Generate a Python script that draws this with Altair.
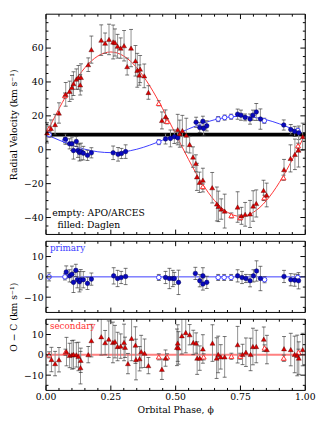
import altair as alt
import pandas as pd

FONT = "DejaVu Serif"

# ---------------- data ----------------
curve_phase = [0.0, 0.05, 0.1, 0.15, 0.2, 0.25, 0.3, 0.35, 0.4, 0.45, 0.5,
               0.55, 0.6, 0.65, 0.7, 0.75, 0.8, 0.85, 0.9, 0.95, 1.0]
curve_prim = [9.0, 5.7, 2.7, 0.3, -1.2, -1.7, -1.2, 0.3, 2.7, 5.7, 9.0,
              12.3, 15.3, 17.7, 19.2, 19.7, 19.2, 17.7, 15.3, 12.3, 9.0]
curve_sec = [9.2, 24.2, 37.7, 48.4, 55.3, 57.7, 55.3, 48.4, 37.7, 24.2, 9.2,
             -5.8, -19.3, -30.0, -36.9, -39.3, -36.9, -30.0, -19.3, -5.8, 9.2]
gamma = [8.9]

p_d_phase = [0.075, 0.091, 0.100, 0.106, 0.117, 0.123, 0.129, 0.135, 0.144, 0.160, 0.175,
             0.259, 0.278, 0.291, 0.307, 0.461, 0.480, 0.495, 0.508, 0.579, 0.593, 0.605,
             0.608, 0.620, 0.739, 0.752, 0.768, 0.787, 0.798, 0.811, 0.827, 0.917, 0.944,
             0.959, 0.975]
p_d_rv = [6.2, 3.5, 3.5, -0.5, 4.9, -0.5, -1.6, -1.1, -2.0, -3.3, -1.8,
          -1.8, -2.7, -2.2, -1.1, 6.4, 6.7, 7.7, 7.1, 16.2, 13.1, 16.8,
          12.6, 14.1, 21.0, 20.4, 19.1, 18.1, 20.4, 22.3, 18.1, 14.6, 11.9,
          10.8, 10.0]
p_d_err = [3, 3, 4, 5, 3, 4, 5, 5, 4, 3, 3,
           4, 4, 3, 4, 3, 5, 4, 3, 3, 3, 3,
           4, 3, 3, 3, 2, 3, 3, 5, 6, 3, 3,
           3, 4]

p_a_phase = [0.012, 0.073, 0.435, 0.664, 0.689, 0.714, 0.842, 0.971]
p_a_rv = [8.9, 5.6, 4.5, 18.1, 19.0, 19.5, 17.1, 11.3]
p_a_err = [1.5, 1.5, 1.5, 1.5, 1.5, 1.5, 1.5, 1.5]

s_d_phase = [0.004, 0.019, 0.035, 0.050, 0.076, 0.091, 0.100, 0.106, 0.117, 0.125, 0.132,
             0.135, 0.163, 0.175, 0.213, 0.228, 0.243, 0.259, 0.266, 0.276, 0.288, 0.301,
             0.313, 0.328, 0.345, 0.352, 0.360, 0.363, 0.379, 0.395, 0.447, 0.461, 0.508,
             0.516, 0.526, 0.541, 0.554, 0.567, 0.578, 0.582, 0.592, 0.605, 0.641, 0.659,
             0.665, 0.676, 0.689, 0.739, 0.754, 0.768, 0.787, 0.799, 0.811, 0.839, 0.851,
             0.918, 0.943, 0.960, 0.974, 0.990]
s_d_rv = [10.0, 12.6, 14.9, 21.7, 32.7, 34.5, 36.8, 39.0, 41.7, 42.7, 38.3,
          42.7, 50.2, 59.1, 64.7, 62.9, 65.1, 63.6, 63.3, 61.1, 60.0, 61.4,
          49.1, 60.0, 52.5, 46.9, 44.1, 47.6, 43.6, 33.8, 17.3, 19.5, 11.9,
          9.5, 11.3, 8.6, 3.1, -4.3, -8.0, -16.0, -19.2, -17.9, -22.4, -32.0,
          -33.4, -35.0, -36.2, -33.8, -39.0, -38.1, -37.9, -33.2, -31.7, -24.0, -26.7,
          -11.7, -5.1, -2.7, -0.2, 7.7]
s_d_err = [6, 5, 6, 6, 7, 6, 7, 7, 6, 7, 6,
           8, 4, 8, 9, 6, 9, 10, 8, 7, 6, 9,
           5, 11, 9, 10, 6, 8, 7, 4, 5, 4, 9,
           8, 9, 10, 5, 6, 5, 8, 6, 7, 9, 10,
           9, 6, 10, 9, 5, 7, 8, 9, 8, 6, 7,
           6, 8, 9, 10, 8]

s_a_phase = [0.012, 0.073, 0.435, 0.467, 0.605, 0.715, 0.749, 0.842, 0.916, 0.972]
s_a_rv = [12.5, 32.0, 27.4, 16.8, -21.7, -38.8, -40.0, -28.3, -16.5, 2.4]
s_a_err = [1.5, 1.5, 1.5, 1.5, 1.5, 1.5, 1.5, 1.5, 1.5, 1.5]

oc_p_d_phase = [0.078, 0.091, 0.100, 0.106, 0.115, 0.121, 0.129, 0.134, 0.144, 0.160, 0.175,
                0.261, 0.276, 0.290, 0.307, 0.461, 0.476, 0.489, 0.495, 0.511, 0.576, 0.593,
                0.605, 0.605, 0.620, 0.739, 0.756, 0.771, 0.787, 0.800, 0.812, 0.827, 0.918,
                0.944, 0.959, 0.974]
oc_p_d = [2.4, 0.5, 1.3, -2.7, 3.2, -1.4, -2.4, -1.4, -1.4, -3.2, -1.1,
          0.5, -0.8, -0.3, 0.2, -0.3, -0.8, -0.8, -0.8, -2.7, 1.7, -1.9,
          0.5, -3.5, -2.7, 0.5, -0.3, -0.8, -1.9, 0.5, 2.9, -0.8, 0.2,
          -1.4, -1.6, -1.9]
oc_p_d_err = [3, 3, 4, 5, 3, 4, 5, 5, 4, 3, 3,
              4, 4, 3, 4, 3, 5, 4, 3, 6, 3, 3,
              4, 3, 3, 3, 3, 2, 3, 3, 5, 6, 3,
              3, 3, 4]
oc_p_a_phase = [0.012, 0.073, 0.435, 0.664, 0.687, 0.714, 0.843, 0.971]
oc_p_a = [0.0, 0.0, -0.3, -0.3, -0.3, -0.3, -1.4, -0.3]
oc_p_a_err = [2, 1.5, 1.5, 1.5, 1.5, 1.5, 1.5, 1.5]

oc_s_d_phase = [0.021, 0.035, 0.050, 0.079, 0.091, 0.100, 0.106, 0.117, 0.125, 0.134, 0.133,
                0.163, 0.175, 0.213, 0.228, 0.242, 0.258, 0.266, 0.276, 0.288, 0.301, 0.305,
                0.316, 0.330, 0.345, 0.347, 0.361, 0.367, 0.380, 0.395, 0.447, 0.461, 0.505,
                0.508, 0.511, 0.524, 0.539, 0.554, 0.568, 0.579, 0.583, 0.593, 0.605, 0.642,
                0.658, 0.664, 0.674, 0.689, 0.739, 0.758, 0.771, 0.789, 0.798, 0.811, 0.840,
                0.852, 0.918, 0.944, 0.959, 0.969, 0.975, 0.990]
oc_s_d = [-2.3, -4.3, -2.4, 1.6, -0.3, 0.0, 0.2, 0.0, -0.8, -2.7, -6.3,
          0.1, 7.0, 8.9, 6.0, 7.7, 6.1, 6.5, 4.1, 4.3, 6.1, 3.7,
          -4.3, 8.1, 4.8, -2.3, -1.9, 1.6, 0.8, -5.3, -7.1, -1.6, 3.7,
          5.8, 3.4, 9.4, 11.0, 9.9, 6.1, 5.8, -1.6, -1.6, 2.9, 5.8,
          -1.6, 0.2, -1.0, -1.0, 5.0, 0.2, 1.3, 0.2, 4.1, 4.1, 7.7,
          2.6, 3.0, 2.6, 0.2, -0.3, -1.6, 2.6]
oc_s_d_err = [6, 6, 6, 7, 6, 7, 7, 6, 7, 6, 8,
              4, 8, 9, 6, 9, 10, 8, 7, 6, 9, 5,
              5, 11, 9, 10, 6, 8, 7, 4, 5, 4, 9,
              9, 8, 9, 10, 5, 6, 5, 8, 6, 7, 9,
              10, 9, 6, 10, 9, 5, 7, 8, 9, 8, 6,
              7, 6, 8, 9, 10, 8, 8]
oc_s_a_phase = [0.012, 0.075, 0.435, 0.467, 0.608, 0.715, 0.749, 0.843, 0.917, 0.974]
oc_s_a = [0.0, 1.3, -1.0, -1.0, -1.0, -0.7, -0.7, 3.4, -1.6, 1.3]
oc_s_a_err = [1.5, 1.5, 1.5, 1.5, 1.5, 1.5, 1.5, 1.5, 1.5, 1.5]

x_major = [0.0, 0.25, 0.5, 0.75, 1.0]
x_labels = ["0.00", "0.25", "0.50", "0.75", "1.00"]
x_minor = [0.05, 0.1, 0.15, 0.2, 0.3, 0.35, 0.4, 0.45, 0.55, 0.6, 0.65, 0.7,
           0.8, 0.85, 0.9, 0.95]
y_top_major = [-40, -20, 0, 20, 40, 60]
y_top_minor = [-45, -35, -30, -25, -15, -10, -5, 5, 10, 15, 25, 30, 35, 45, 50,
               55, 65, 70, 75]
y_res_major = [-10, 0, 10]
y_res_minor = [-15, -5, 5, 15]

# ---------------- layout / styling ----------------
W = 266
TOP = (0, 226)      # pixel rows of each panel inside the plot group
MID = (233, 306)
BOT = (313, 386)
H = BOT[1]
FS = 9.5
BLUE_DARK = "#0808c0"
BLUE_LINE = "#3a3aff"
RED_FILL = "#dd0000"
RED_LINE = "#ff3030"
XS = alt.Scale(domain=[0, 1], nice=False, zero=False)

ys_top = alt.Scale(domain=[-50, 80], range=[TOP[1], TOP[0]], nice=False, zero=False, clamp=True)
ys_mid = alt.Scale(domain=[-17.5, 17.5], range=[MID[1], MID[0]], nice=False, zero=False, clamp=True)
ys_bot = alt.Scale(domain=[-17.5, 17.5], range=[BOT[1], BOT[0]], nice=False, zero=False, clamp=True)


def frame(ph, v, e=None):
    d = pd.DataFrame({"phase": ph, "v": v})
    if e is not None:
        d["lo"] = [a - b for a, b in zip(v, e)]
        d["hi"] = [a + b for a, b in zip(v, e)]
    return d


def xenc():
    return alt.X("phase:Q", scale=XS, axis=None)


def errbars(d, ys, dom):
    bar = alt.Chart(d).mark_rule(color="#909090", strokeWidth=1).encode(
        x=xenc(), y=alt.Y("lo:Q", scale=ys, axis=None), y2="hi:Q")
    lo = alt.Chart(d).transform_filter(alt.datum.lo >= dom[0]).mark_tick(
        orient="horizontal", size=4, thickness=1, color="#333333").encode(
        x=xenc(), y=alt.Y("lo:Q", scale=ys, axis=None))
    hi = alt.Chart(d).transform_filter(alt.datum.hi <= dom[1]).mark_tick(
        orient="horizontal", size=4, thickness=1, color="#333333").encode(
        x=xenc(), y=alt.Y("hi:Q", scale=ys, axis=None))
    return [bar, lo, hi]


def points(d, ys, shape, fill, stroke, size, sw):
    return alt.Chart(d).mark_point(shape=shape, filled=True, fill=fill, stroke=stroke,
                                   size=size, strokeWidth=sw, opacity=1,
                                   fillOpacity=1, strokeOpacity=1).encode(
        x=xenc(), y=alt.Y("v:Q", scale=ys, axis=None))


def tick_layers(ys, rows, ymaj, ymin):
    out = []
    for vals, ln in [(x_major, 5), (x_minor, 2.5)]:
        d = pd.DataFrame({"t": vals})
        out.append(alt.Chart(d).mark_rule(color="black", strokeWidth=1).encode(
            x=alt.X("t:Q", scale=XS, axis=None), y=alt.value(rows[1]), y2=alt.value(rows[1] - ln)))
        out.append(alt.Chart(d).mark_rule(color="black", strokeWidth=1).encode(
            x=alt.X("t:Q", scale=XS, axis=None), y=alt.value(rows[0]), y2=alt.value(rows[0] + ln)))
    for vals, ln in [(ymaj, 5), (ymin, 2.5)]:
        d = pd.DataFrame({"t": vals})
        out.append(alt.Chart(d).mark_rule(color="black", strokeWidth=1).encode(
            y=alt.Y("t:Q", scale=ys, axis=None), x=alt.value(0), x2=alt.value(ln)))
        out.append(alt.Chart(d).mark_rule(color="black", strokeWidth=1).encode(
            y=alt.Y("t:Q", scale=ys, axis=None), x=alt.value(W), x2=alt.value(W - ln)))
    return out


def box(rows):
    return alt.Chart(pd.DataFrame({"k": [0]})).mark_rect(
        fill="white", fillOpacity=0, stroke="black", strokeWidth=1).encode(
        x=alt.value(0), x2=alt.value(W), y=alt.value(rows[0]), y2=alt.value(rows[1]))


def label(text, x, y, color, align="left", baseline="top", size=FS):
    return alt.Chart(pd.DataFrame({"t": [text]})).mark_text(
        align=align, baseline=baseline, font=FONT, fontSize=size, color=color).encode(
        x=alt.value(x), y=alt.value(y), text="t:N")


# ---------------- top panel ----------------
layers = [
    alt.Chart(frame(curve_phase, curve_prim)).mark_line(
        color=BLUE_LINE, strokeWidth=1, interpolate="natural").encode(
        x=xenc(),
        y=alt.Y("v:Q", scale=ys_top,
                axis=alt.Axis(orient="left", values=y_top_major, format="d",
                              title="Radial Velocity (km s⁻¹)", titleY=(TOP[0] + TOP[1]) / 2,
                              labelPadding=3, titlePadding=5))),
    alt.Chart(frame(curve_phase, curve_sec)).mark_line(
        color=RED_LINE, strokeWidth=1, interpolate="natural").encode(
        x=xenc(), y=alt.Y("v:Q", scale=ys_top, axis=None)),
    alt.Chart(pd.DataFrame({"g": gamma})).mark_rule(color="black", strokeWidth=4).encode(
        y=alt.Y("g:Q", scale=ys_top, axis=None)),
]
layers += errbars(frame(p_d_phase, p_d_rv, p_d_err), ys_top, [-50, 80])
layers += errbars(frame(p_a_phase, p_a_rv, p_a_err), ys_top, [-50, 80])
layers += errbars(frame(s_d_phase, s_d_rv, s_d_err), ys_top, [-50, 80])
layers += errbars(frame(s_a_phase, s_a_rv, s_a_err), ys_top, [-50, 80])
layers += [
    points(frame(p_a_phase, p_a_rv), ys_top, "circle", "white", BLUE_LINE, 22, 1),
    points(frame(p_d_phase, p_d_rv), ys_top, "circle", BLUE_DARK, "#000050", 22, 0.5),
    points(frame(s_a_phase, s_a_rv), ys_top, "triangle-up", "white", RED_LINE, 26, 1),
    points(frame(s_d_phase, s_d_rv), ys_top, "triangle-up", RED_FILL, "#400000", 26, 0.4),
    label("empty: APO/ARCES", 54, TOP[1] - 22, "black", align="center", baseline="middle"),
    label("filled: Daglen", 44, TOP[1] - 10, "black", align="center", baseline="middle"),
]
layers += tick_layers(ys_top, TOP, y_top_major, y_top_minor)
layers.append(box(TOP))

# ---------------- middle panel (primary O-C) ----------------
layers.append(
    alt.Chart(pd.DataFrame({"g": [0]})).mark_rule(color=BLUE_LINE, strokeWidth=1).encode(
        y=alt.Y("g:Q", scale=ys_mid,
                axis=alt.Axis(orient="left", values=y_res_major, format="d", title=None,
                              labelPadding=3))))
layers += errbars(frame(oc_p_d_phase, oc_p_d, oc_p_d_err), ys_mid, [-17.5, 17.5])
layers += errbars(frame(oc_p_a_phase, oc_p_a, oc_p_a_err), ys_mid, [-17.5, 17.5])
layers += [
    points(frame(oc_p_a_phase, oc_p_a), ys_mid, "circle", "white", BLUE_LINE, 22, 1),
    points(frame(oc_p_d_phase, oc_p_d), ys_mid, "circle", BLUE_DARK, "#000050", 22, 0.5),
    label("primary", 4, MID[0] + 3, BLUE_LINE, size=9),
]
layers += tick_layers(ys_mid, MID, y_res_major, y_res_minor)
layers.append(box(MID))

# ---------------- bottom panel (secondary O-C) ----------------
layers.append(
    alt.Chart(pd.DataFrame({"g": [0]})).mark_rule(
        color="#ff6060", strokeWidth=2, opacity=0.8).encode(
        y=alt.Y("g:Q", scale=ys_bot,
                axis=alt.Axis(orient="left", values=y_res_major, format="d",
                              title="O − C (km s⁻¹)", titleY=(MID[1] + BOT[0]) / 2 + 1,
                              labelPadding=3, titlePadding=5))))
layers += errbars(frame(oc_s_d_phase, oc_s_d, oc_s_d_err), ys_bot, [-17.5, 17.5])
layers += errbars(frame(oc_s_a_phase, oc_s_a, oc_s_a_err), ys_bot, [-17.5, 17.5])
layers += [
    points(frame(oc_s_a_phase, oc_s_a), ys_bot, "triangle-up", "white", RED_LINE, 26, 1),
    points(frame(oc_s_d_phase, oc_s_d), ys_bot, "triangle-up", RED_FILL, "#400000", 26, 0.4),
    label("secondary", 4, BOT[0] + 3, RED_LINE, size=9),
]
layers += tick_layers(ys_bot, BOT, y_res_major, y_res_minor)
layers.append(box(BOT))

# ---------------- x axis labels and title (as text through the x scale) ----------------
layers.append(
    alt.Chart(pd.DataFrame({"phase": x_major, "lab": x_labels})).mark_text(
        baseline="top", align="center", font=FONT, fontSize=FS, color="black").encode(
        x=xenc(), y=alt.value(H + 2), text="lab:N"))
layers.append(label("Orbital Phase, ϕ", W / 2, H + 15, "black", align="center"))

chart = alt.layer(*layers).resolve_scale(y="independent").resolve_axis(
    y="independent").properties(
    width=W, height=H,
    padding={"left": 0, "top": 0, "right": 0, "bottom": 0}
).configure_view(strokeWidth=0).configure_axis(
    labelFont=FONT, titleFont=FONT, labelFontSize=FS, titleFontSize=FS,
    titleFontWeight="normal", labelColor="black", titleColor="black",
    ticks=False, domain=False, grid=False)

chart.save("out.html", embed_options={"renderer": "svg", "actions": False})
